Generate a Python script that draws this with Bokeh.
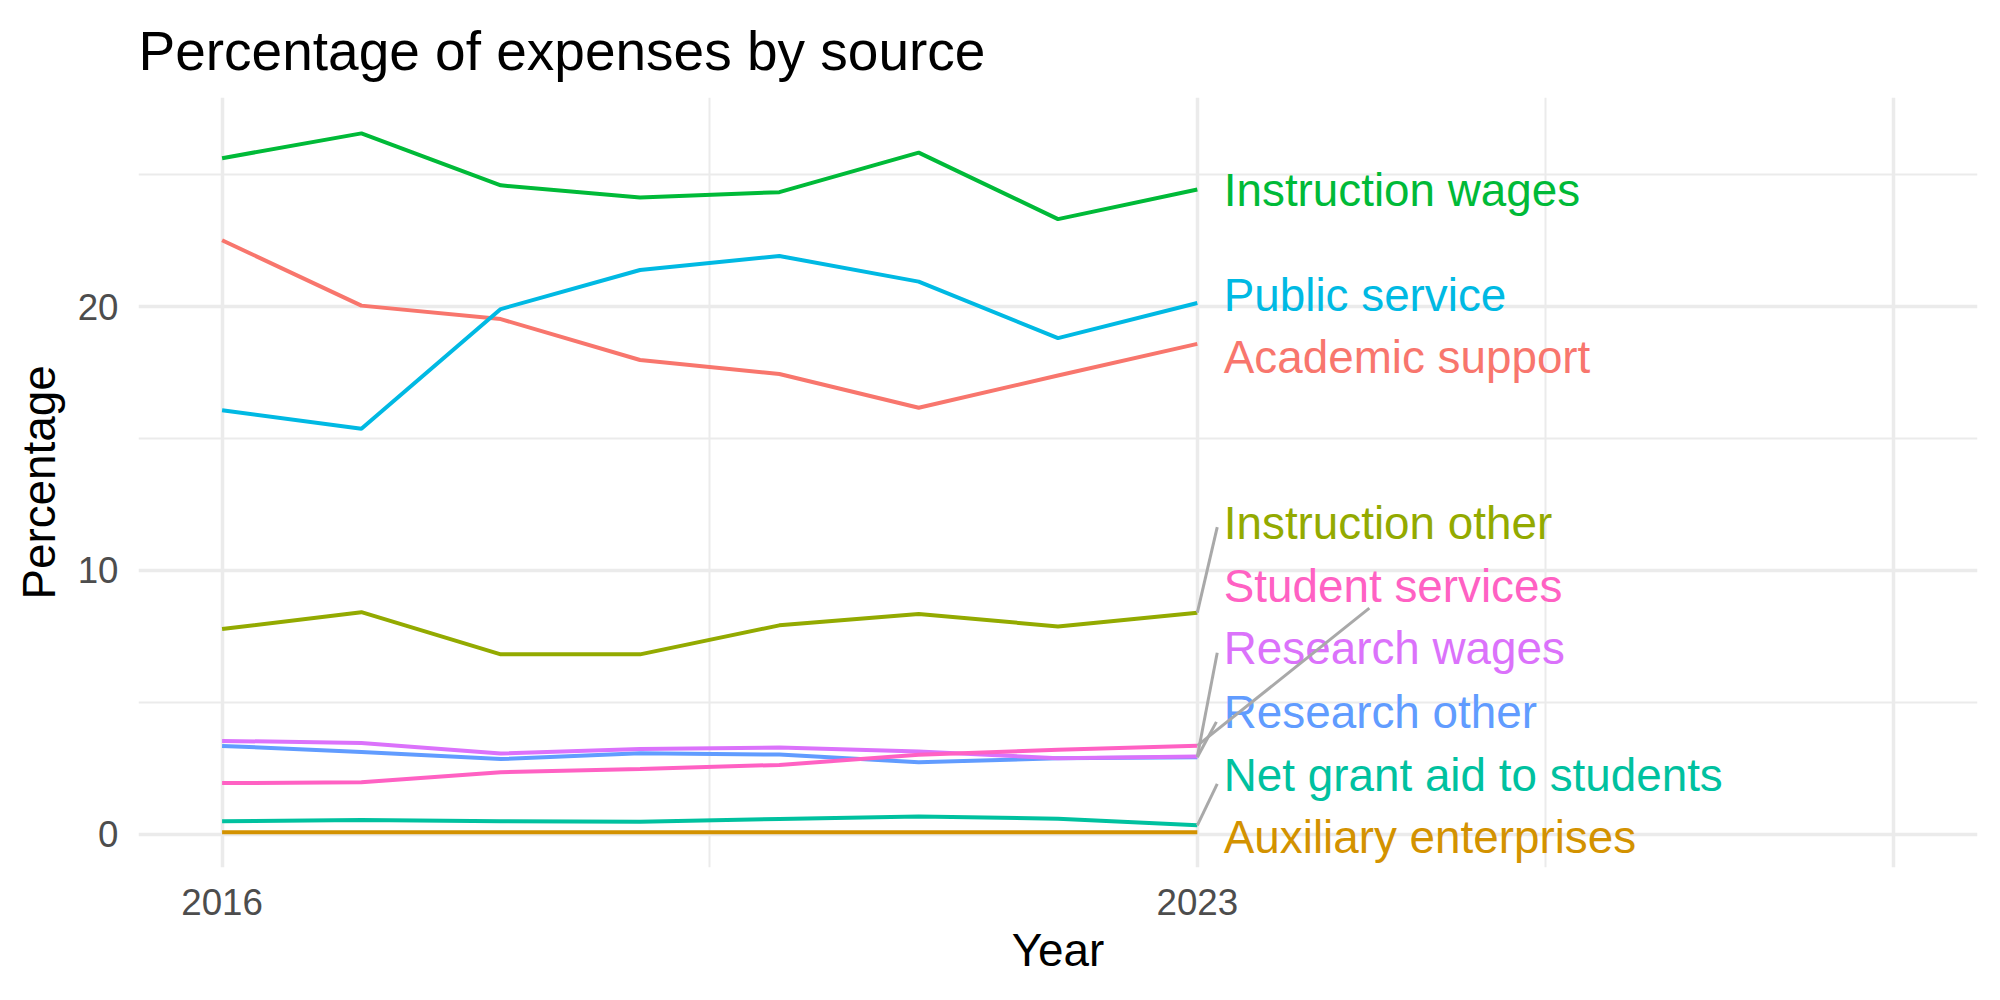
from bokeh.plotting import figure
from bokeh.models import Range1d, FixedTicker
from bokeh.embed import file_html
from bokeh.resources import INLINE
from bokeh.core.properties import value

# Share of expenses (%) by source, 2016-2023
years = [2016, 2017, 2018, 2019, 2020, 2021, 2022, 2023]

academic_support = [22.52, 20.04, 19.53, 17.98, 17.45, 16.17, 17.39, 18.59]
auxiliary_enterprises = [0.08, 0.08, 0.08, 0.08, 0.08, 0.08, 0.08, 0.08]
instruction_other = [7.78, 8.42, 6.82, 6.82, 7.92, 8.35, 7.88, 8.40]
instruction_wages = [25.63, 26.57, 24.60, 24.14, 24.34, 25.84, 23.32, 24.44]
net_grant_aid = [0.49, 0.54, 0.49, 0.47, 0.58, 0.67, 0.59, 0.34]
public_service = [16.07, 15.37, 19.91, 21.39, 21.92, 20.95, 18.81, 20.14]
research_other = [3.35, 3.12, 2.85, 3.07, 3.02, 2.73, 2.88, 2.92]
research_wages = [3.54, 3.46, 3.06, 3.23, 3.29, 3.14, 2.88, 2.95]
student_services = [1.94, 1.97, 2.35, 2.47, 2.63, 3.01, 3.20, 3.36]

sources = ["Academic support", "Auxiliary enterprises", "Instruction other",
           "Instruction wages", "Net grant aid to students", "Public service",
           "Research other", "Research wages", "Student services"]
series = [academic_support, auxiliary_enterprises, instruction_other,
          instruction_wages, net_grant_aid, public_service,
          research_other, research_wages, student_services]
colors = ["#F8766D", "#D39200", "#93AA00", "#00BA38", "#00C19F",
          "#00B9E3", "#619CFF", "#DB72FB", "#FF61C3"]

# Repelled label placement (data units): baseline of each end label
label_x = 2023.19
label_y = [18.07, -0.13, 11.79, 24.39, 2.22, 20.42, 4.63, 7.05, 9.39]
# Leader segment ends (None where the label sits next to its line)
seg_end = [None, None, (2023.143, 11.64), None, (2023.143, 1.91), None,
           (2023.137, 4.26), (2023.143, 6.88), (2024.235, 8.57)]

FONT = "Liberation Sans"

p = figure(width=2000, height=1000, output_backend="svg", toolbar_location=None,
           x_range=Range1d(2015.4, 2028.6), y_range=Range1d(-1.26, 27.93),
           min_border_left=138, min_border_right=23,
           min_border_top=97, min_border_bottom=133,
           title="Percentage of expenses by source")

p.background_fill_color = "white"
p.border_fill_color = "white"
p.outline_line_color = None

p.title.text_font = FONT
p.title.text_font_size = "55px"
p.title.text_font_style = "normal"
p.title.text_color = "black"
p.title.align = "left"
p.title.standoff = 32

# Grid: major + minor lines
p.xgrid.ticker = FixedTicker(ticks=[2016, 2023, 2028], minor_ticks=[2019.5, 2025.5])
p.ygrid.ticker = FixedTicker(ticks=[0, 10, 20], minor_ticks=[5, 15, 25])
for g in (p.xgrid, p.ygrid):
    g.grid_line_color = "#EBEBEB"
    g.grid_line_width = 3.5
    g.minor_grid_line_color = "#EBEBEB"
    g.minor_grid_line_width = 2

p.xaxis.ticker = FixedTicker(ticks=[2016, 2023])
p.yaxis.ticker = FixedTicker(ticks=[0, 10, 20])
for ax in (p.xaxis, p.yaxis):
    ax.axis_line_color = None
    ax.major_tick_line_color = None
    ax.minor_tick_line_color = None
    ax.major_tick_out = 0
    ax.major_tick_in = 0
    ax.major_label_text_font = FONT
    ax.major_label_text_font_size = "36.7px"
    ax.major_label_text_color = "#4D4D4D"
    ax.axis_label_text_font = FONT
    ax.axis_label_text_font_size = "45.8px"
    ax.axis_label_text_font_style = "normal"
    ax.axis_label_text_color = "black"

p.xaxis.axis_label = "Year"
p.yaxis.axis_label = "Percentage"
p.xaxis.major_label_standoff = 21
p.yaxis.major_label_standoff = 20
p.xaxis.axis_label_standoff = 7
p.yaxis.axis_label_standoff = 10

for name, vals, col in zip(sources, series, colors):
    p.line(years, vals, line_color=col, line_width=4)

for name, col, ly in zip(sources, colors, label_y):
    p.text(x=[label_x], y=[ly], text=[name], text_color=col,
           text_font=value(FONT), text_font_size="45.8px",
           text_align="left", text_baseline="alphabetic")

for vals, end in zip(series, seg_end):
    if end is None:
        continue
    p.segment(x0=[years[-1]], y0=[vals[-1]], x1=[end[0]], y1=[end[1]],
              line_color="#A9A9A9", line_width=3)

open("out.html", "w").write(file_html(p, INLINE))
